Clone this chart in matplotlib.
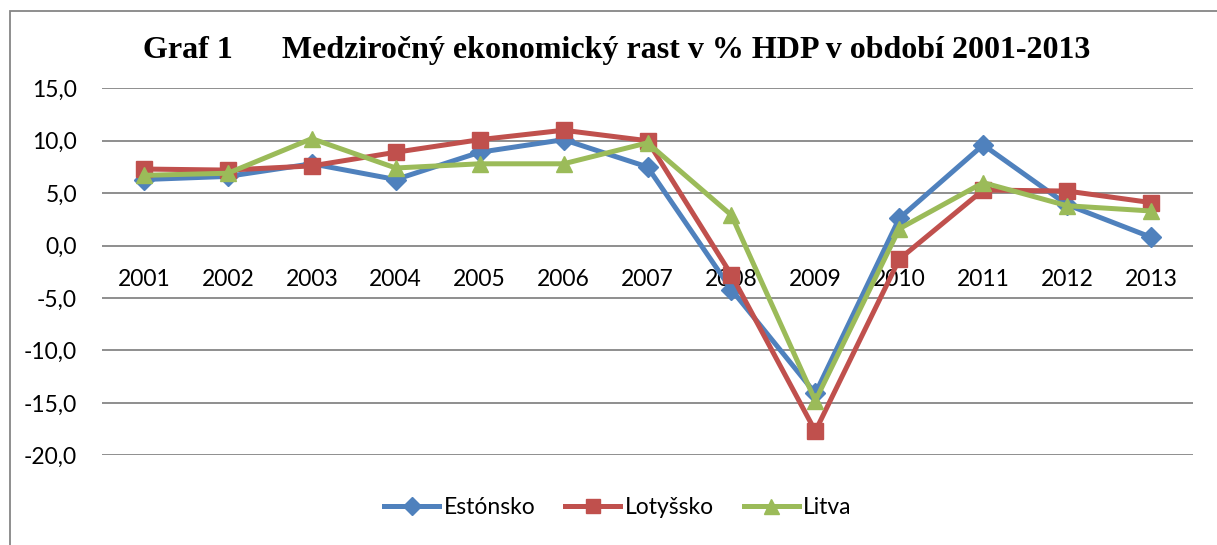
import matplotlib
matplotlib.use("Agg")
import matplotlib.pyplot as plt
from matplotlib.patches import Rectangle
import numpy as np

# Dáta - medziročný rast HDP (%)
roky = ["2001", "2002", "2003", "2004", "2005", "2006", "2007",
        "2008", "2009", "2010", "2011", "2012", "2013"]
estonsko = [6.3, 6.6, 7.8, 6.3, 8.9, 10.1, 7.5, -4.2, -14.1, 2.6, 9.6, 3.9, 0.8]
lotyssko = [7.3, 7.2, 7.6, 8.9, 10.1, 11.0, 10.0, -2.8, -17.7, -1.3, 5.3, 5.2, 4.1]
litva = [6.7, 6.9, 10.2, 7.4, 7.8, 7.8, 9.8, 2.9, -14.8, 1.6, 6.0, 3.8, 3.3]
y_ticky = [15, 10, 5, 0, -5, -10, -15, -20]

W, H = 1217, 545
fig = plt.figure(figsize=(W / 100, H / 100), dpi=100)
plt.rcParams['font.family'] = ['Lato', 'DejaVu Sans']

# plocha grafu v pixeloch
left, right, top, bottom = 102, 1193, 88.3, 455.3
ax = fig.add_axes([left / W, 1 - bottom / H, (right - left) / W, (bottom - top) / H])

x = np.arange(len(roky))
ax.plot(x, estonsko, color="#4F81BD", lw=3.6, marker="D", ms=10, label="Estónsko", zorder=3)
ax.plot(x, lotyssko, color="#C0504D", lw=3.6, marker="s", ms=11, label="Lotyšsko", zorder=3)
ax.plot(x, litva, color="#9BBB59", lw=3.6, marker="^", ms=12, label="Litva", zorder=3)

# os x prechádza nulou
ax.spines["bottom"].set_position(("data", 0))
for s in ["top", "right", "left", "bottom"]:
    ax.spines[s].set_visible(False)

ax.set_xlim(-0.5, len(roky) - 0.5)
ax.set_ylim(-20, 15)
ax.set_yticks(y_ticky)
ax.set_yticklabels([f"{v:.1f}".replace(".", ",") for v in y_ticky])
ax.set_xticks(x)
ax.set_xticklabels(roky)
ax.tick_params(axis="x", length=0, pad=16.5, labelsize=16.5)
ax.tick_params(axis="y", length=0, pad=18, labelsize=16.5)
ax.grid(axis="y", color="#868686", lw=1.3, zorder=0)
ax.set_axisbelow(True)

# titulok
fig.text(143 / W, 1 - 58 / H, "Graf 1", fontsize=23, fontweight="bold",
         family="Liberation Serif", ha="left", va="baseline")
fig.text(282 / W, 1 - 58 / H, "Medziročný ekonomický rast v % HDP v období 2001-2013",
         fontsize=23, fontweight="bold", family="Liberation Serif", ha="left", va="baseline")

# legenda
ax.legend(loc="center", bbox_to_anchor=(618 / W, 1 - 508 / H), bbox_transform=fig.transFigure,
          ncol=3, frameon=False, fontsize=16.5, handlelength=2.4, handletextpad=0.2,
          columnspacing=1.3, markerscale=0.9)

# rámček grafu
fig.add_artist(Rectangle((9.5 / W, -0.2), 1.5, 1.2 - 11 / H, transform=fig.transFigure,
                         fill=False, edgecolor="#868686", lw=1.3))

fig.savefig("out.png", dpi=100)
